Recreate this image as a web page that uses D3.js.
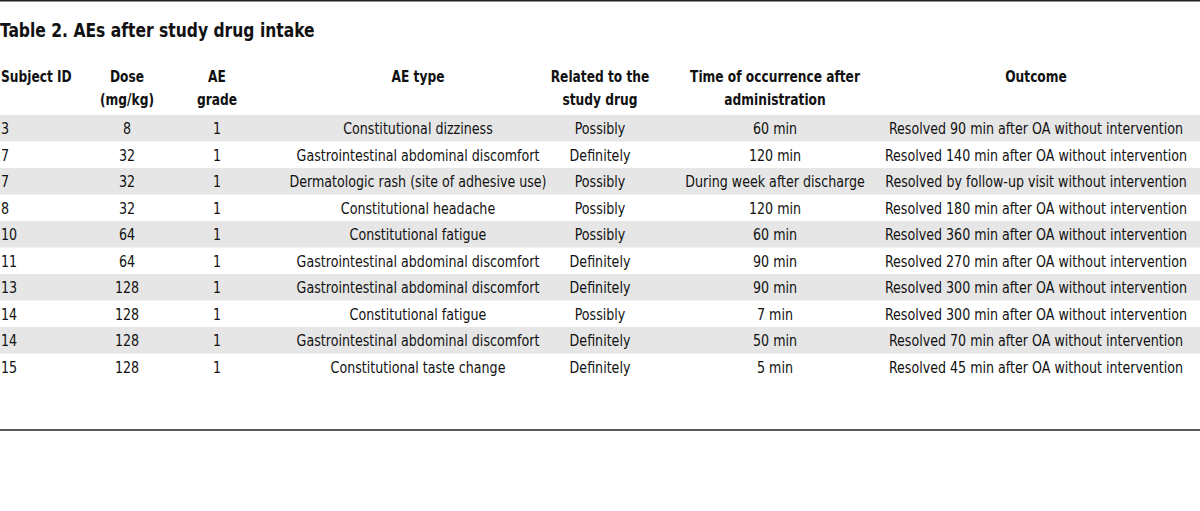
<!DOCTYPE html>
<html>
<head>
<meta charset="utf-8">
<script src="https://cdn.jsdelivr.net/npm/d3@7"></script>
<style>
  body { margin: 0; background: #fff; }
  svg text { font-family: "DejaVu Sans Condensed", "DejaVu Sans", sans-serif; font-stretch: condensed; fill: #111; }
</style>
</head>
<body>
<div class="container"></div>
<script>
var w = 1200;
var h = 511;

var title = "Table 2. AEs after study drug intake";

var headers = [
  ["Subject ID"],
  ["Dose", "(mg/kg)"],
  ["AE", "grade"],
  ["AE type"],
  ["Related to the", "study drug"],
  ["Time of occurrence after", "administration"],
  ["Outcome"]
];

var subjectIds = ["3", "7", "7", "8", "10", "11", "13", "14", "14", "15"];
var doses = ["8", "32", "32", "32", "64", "64", "128", "128", "128", "128"];
var grades = ["1", "1", "1", "1", "1", "1", "1", "1", "1", "1"];
var aeTypes = [
  "Constitutional dizziness",
  "Gastrointestinal abdominal discomfort",
  "Dermatologic rash (site of adhesive use)",
  "Constitutional headache",
  "Constitutional fatigue",
  "Gastrointestinal abdominal discomfort",
  "Gastrointestinal abdominal discomfort",
  "Constitutional fatigue",
  "Gastrointestinal abdominal discomfort",
  "Constitutional taste change"
];
var related = ["Possibly", "Definitely", "Possibly", "Possibly", "Possibly",
  "Definitely", "Definitely", "Possibly", "Definitely", "Definitely"];
var times = ["60 min", "120 min", "During week after discharge", "120 min", "60 min",
  "90 min", "90 min", "7 min", "50 min", "5 min"];
var outcomes = [
  "Resolved 90 min after OA without intervention",
  "Resolved 140 min after OA without intervention",
  "Resolved by follow-up visit without intervention",
  "Resolved 180 min after OA without intervention",
  "Resolved 360 min after OA without intervention",
  "Resolved 270 min after OA without intervention",
  "Resolved 300 min after OA without intervention",
  "Resolved 300 min after OA without intervention",
  "Resolved 70 min after OA without intervention",
  "Resolved 45 min after OA without intervention"
];

// column layout: x position and anchor
var colX = [1, 127, 217, 418, 600, 775, 1036];
var colAnchor = ["start", "middle", "middle", "middle", "middle", "middle", "middle"];

// horizontal squeeze to mimic the narrow journal font
var bodySqueeze = 0.88;
var headSqueeze = 0.85;
var titleSqueeze = 0.91;

function place(x, y, s) {
  return "translate(" + x + "," + y + ") scale(" + s + ",1)";
}

var rows = subjectIds.map(function (d, i) {
  return [d, doses[i], grades[i], aeTypes[i], related[i], times[i], outcomes[i]];
});

var svg = d3.select(".container")
  .append("svg")
  .attr("width", w)
  .attr("height", h);

var yScale = d3.scaleBand()
  .domain(d3.range(rows.length))
  .range([115, 380]);

// top rule
svg.append("line")
  .attr("x1", 0).attr("x2", w)
  .attr("y1", 0.75).attr("y2", 0.75)
  .attr("stroke", "#222")
  .attr("stroke-width", 1.5);

svg.append("text")
  .attr("transform", place(0, 37, titleSqueeze))
  .attr("font-size", "19px")
  .attr("font-weight", "bold")
  .text(title);

// header
var head = svg.append("g");
headers.forEach(function (lines, c) {
  lines.forEach(function (t, k) {
    head.append("text")
      .attr("transform", place(colX[c], 82 + k * 23, headSqueeze))
      .attr("text-anchor", colAnchor[c])
      .attr("font-size", "16px")
      .attr("font-weight", "bold")
      .text(t);
  });
});

// shaded rows
svg.append("g")
  .selectAll("rect")
  .data(d3.range(0, rows.length, 2))
  .enter()
  .append("rect")
  .attr("x", 0)
  .attr("width", w)
  .attr("y", function (i) { return yScale(i); })
  .attr("height", yScale.bandwidth())
  .attr("fill", "#e6e6e6");

var rowG = svg.append("g")
  .selectAll("g")
  .data(rows)
  .enter()
  .append("g")
  .attr("transform", function (d, i) {
    return "translate(0," + (yScale(i) + yScale.bandwidth() / 2 + 6) + ")";
  });

rowG.selectAll("text")
  .data(function (d) { return d; })
  .enter()
  .append("text")
  .attr("transform", function (d, c) { return place(colX[c], 0, bodySqueeze); })
  .attr("text-anchor", function (d, c) { return colAnchor[c]; })
  .attr("font-size", "16px")
  .text(function (d) { return d; });

// bottom rule
svg.append("line")
  .attr("x1", 0).attr("x2", w)
  .attr("y1", 430).attr("y2", 430)
  .attr("stroke", "#222")
  .attr("stroke-width", 1.5);
</script>
</body>
</html>
